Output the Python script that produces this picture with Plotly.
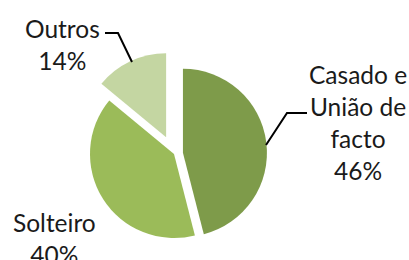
import plotly.graph_objects as go

# Data
categories = ["Casado e União de facto", "Solteiro", "Outros"]
label_lines = ["Casado e<br>União de<br>facto", "Solteiro", "Outros"]
values = [46, 40, 14]
colors = ["#7E9B4A", "#9BBB59", "#C4D6A2"]
pulls = [0.107, 0.0, 0.22]

W, H = 409, 260
total = sum(values)
pct = [f"{round(v / total * 100)}%" for v in values]

def px(x):
    return x / W

def py(y):
    return 1 - y / H

# pie box: center (174,154), half side 102.5
cx, cy, half = 174, 154, 102.5

fig = go.Figure(go.Pie(
    labels=categories,
    values=values,
    sort=False,
    direction="clockwise",
    rotation=0,
    pull=pulls,
    marker=dict(colors=colors, line=dict(width=0)),
    textinfo="none",
    hoverinfo="label+percent",
    showlegend=False,
    domain=dict(x=[px(cx - half), px(cx + half)], y=[py(cy + half), py(cy - half)]),
))

font = dict(family="Lato, Carlito, Calibri, sans-serif", size=24.5, color="#1a1a1a")

label_pos = {0: (358, 122), 1: (54, 238), 2: (62, 44)}
annotations = []
for i, (lab, p) in enumerate(zip(label_lines, pct)):
    x, y = label_pos[i]
    annotations.append(dict(
        text=f"{lab}<br>{p}", x=px(x), y=py(y), xref="paper", yref="paper",
        showarrow=False, xanchor="center", yanchor="middle", align="center",
        font=font,
    ))

def path(points):
    return "M " + " L ".join(f"{px(x)},{py(y)}" for x, y in points)

shapes = [
    dict(type="path", xref="paper", yref="paper",
         path=path([(105, 33), (118, 33), (132, 62)]),
         line=dict(color="#000000", width=2)),
    dict(type="path", xref="paper", yref="paper",
         path=path([(266, 145), (287, 113), (307, 113)]),
         line=dict(color="#000000", width=2)),
]

fig.update_layout(
    width=W, height=H,
    margin=dict(l=0, r=0, t=0, b=0),
    paper_bgcolor="white", plot_bgcolor="white",
    annotations=annotations,
    shapes=shapes,
)

fig.write_html(
    "out.html",
    config={"displayModeBar": False},
    post_script="document.body.style.margin='0';document.body.style.overflow='hidden';",
)
